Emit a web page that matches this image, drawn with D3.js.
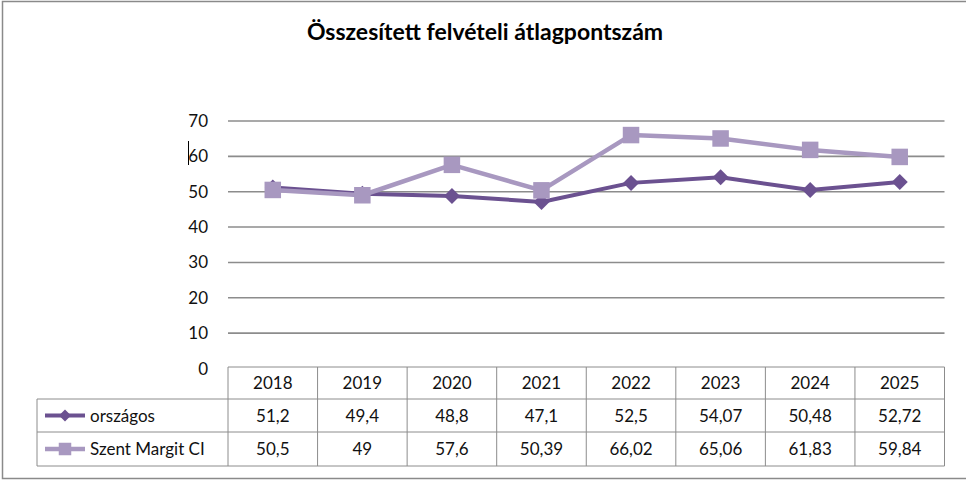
<!DOCTYPE html>
<html>
<head>
<meta charset="utf-8">
<script src="https://cdn.jsdelivr.net/npm/d3@7"></script>
<style>
  body { margin: 0; background: #fff; }
  svg { font-family: Lato, "Open Sans", sans-serif; }
</style>
</head>
<body>
<svg id="chart" width="966" height="480"></svg>
<script>
// ---------- data ----------
const YEARS = ["2018", "2019", "2020", "2021", "2022", "2023", "2024", "2025"];
const ORSZAGOS = [51.2, 49.4, 48.8, 47.1, 52.5, 54.07, 50.48, 52.72];
const SZENT_MARGIT = [50.5, 49, 57.6, 50.39, 66.02, 65.06, 61.83, 59.84];
const Y_TICKS = [0, 10, 20, 30, 40, 50, 60, 70];

const SERIES = [
  { name: "országos", values: ORSZAGOS, color: "#6b5190", marker: "diamond", width: 4 },
  { name: "Szent Margit CI", values: SZENT_MARGIT, color: "#a898c0", marker: "square", width: 4.5 }
];

const svg = d3.select("#chart");

// outer frame
svg.append("rect")
  .attr("x", 2.5).attr("y", 1.5)
  .attr("width", 975).attr("height", 477)
  .attr("fill", "none").attr("stroke", "#8a8a8a").attr("stroke-width", 1.5);

// title
svg.append("text")
  .attr("x", 485).attr("y", 40)
  .attr("text-anchor", "middle")
  .style("font-size", "23px").style("font-weight", "bold")
  .text("Összesített felvételi átlagpontszám");

// ---------- scales ----------
const x = d3.scaleBand().domain(YEARS).range([228, 944.5]);
const y = d3.scaleLinear().domain([0, 70]).range([368.5, 121]);
const cx = d => x(d) + x.bandwidth() / 2;

// gridlines
svg.append("g").selectAll("line")
  .data(Y_TICKS.filter(t => t > 0)).join("line")
    .attr("x1", x.range()[0]).attr("x2", x.range()[1])
    .attr("y1", d => y(d)).attr("y2", d => y(d))
    .attr("stroke", "#8c8c8c").attr("stroke-width", 1.6);

// y labels
svg.append("g").selectAll("text")
  .data(Y_TICKS).join("text")
    .attr("x", 208).attr("y", d => y(d) + 6)
    .attr("text-anchor", "end")
    .style("font-size", "17px").style("fill", "#111")
    .text(d => d);

// stray text cursor next to 60
svg.append("line")
  .attr("x1", 188.5).attr("x2", 188.5).attr("y1", 141).attr("y2", 165)
  .attr("stroke", "#000").attr("stroke-width", 1);

// ---------- markers ----------
function drawMarker(g, type, px, py, size, color) {
  if (type === "diamond") {
    const s = size / 2;
    g.append("path")
      .attr("d", `M${px},${py - s}L${px + s},${py}L${px},${py + s}L${px - s},${py}Z`)
      .attr("fill", color);
  } else {
    g.append("rect")
      .attr("x", px - size / 2).attr("y", py - size / 2)
      .attr("width", size).attr("height", size)
      .attr("fill", color);
  }
}

// ---------- lines ----------
SERIES.forEach(s => {
  const g = svg.append("g");
  const line = d3.line().x((d, i) => cx(YEARS[i])).y(d => y(d));
  g.append("path")
    .attr("d", line(s.values))
    .attr("fill", "none").attr("stroke", s.color)
    .attr("stroke-width", s.width).attr("stroke-linejoin", "round");
  s.values.forEach((v, i) => {
    drawMarker(g, s.marker, cx(YEARS[i]), y(v), s.marker === "diamond" ? 16 : 16.5, s.color);
  });
});

// ---------- data table ----------
const ROW_Y = [367, 399, 432, 466];
const LABEL_X = 37;
const T_RIGHT = x.range()[1];
const tbl = svg.append("g").attr("stroke", "#8c8c8c").attr("stroke-width", 1);

// horizontal rules
tbl.append("line").attr("x1", x.range()[0]).attr("x2", T_RIGHT).attr("y1", ROW_Y[0]).attr("y2", ROW_Y[0]);
ROW_Y.slice(1).forEach(ry => {
  tbl.append("line").attr("x1", LABEL_X).attr("x2", T_RIGHT).attr("y1", ry).attr("y2", ry);
});
// vertical rules
tbl.append("line").attr("x1", LABEL_X).attr("x2", LABEL_X).attr("y1", ROW_Y[1]).attr("y2", ROW_Y[3]);
YEARS.forEach(yr => {
  tbl.append("line").attr("x1", x(yr)).attr("x2", x(yr)).attr("y1", ROW_Y[0]).attr("y2", ROW_Y[3]);
});
tbl.append("line").attr("x1", T_RIGHT).attr("x2", T_RIGHT).attr("y1", ROW_Y[0]).attr("y2", ROW_Y[3]);

const fmt = v => String(v).replace(".", ",");
const rowMid = i => (ROW_Y[i] + ROW_Y[i + 1]) / 2;

// header
svg.append("g").selectAll("text")
  .data(YEARS).join("text")
    .attr("x", d => cx(d)).attr("y", rowMid(0) + 6)
    .attr("text-anchor", "middle")
    .style("font-size", "17px").style("fill", "#111")
    .text(d => d);

SERIES.forEach((s, si) => {
  const my = rowMid(si + 1);
  svg.append("g").selectAll("text")
    .data(s.values).join("text")
      .attr("x", (d, i) => cx(YEARS[i])).attr("y", my + 6)
      .attr("text-anchor", "middle")
      .style("font-size", "17px").style("fill", "#111")
      .text(d => fmt(d));

  // legend key
  svg.append("line")
    .attr("x1", 45).attr("x2", 85).attr("y1", my).attr("y2", my)
    .attr("stroke", s.color).attr("stroke-width", s.width);
  drawMarker(svg, s.marker, 65, my, s.marker === "diamond" ? 12 : 12.5, s.color);
  svg.append("text")
    .attr("x", 90).attr("y", my + 6)
    .style("font-size", "17px").style("fill", "#111")
    .text(s.name);
});
</script>
</body>
</html>
